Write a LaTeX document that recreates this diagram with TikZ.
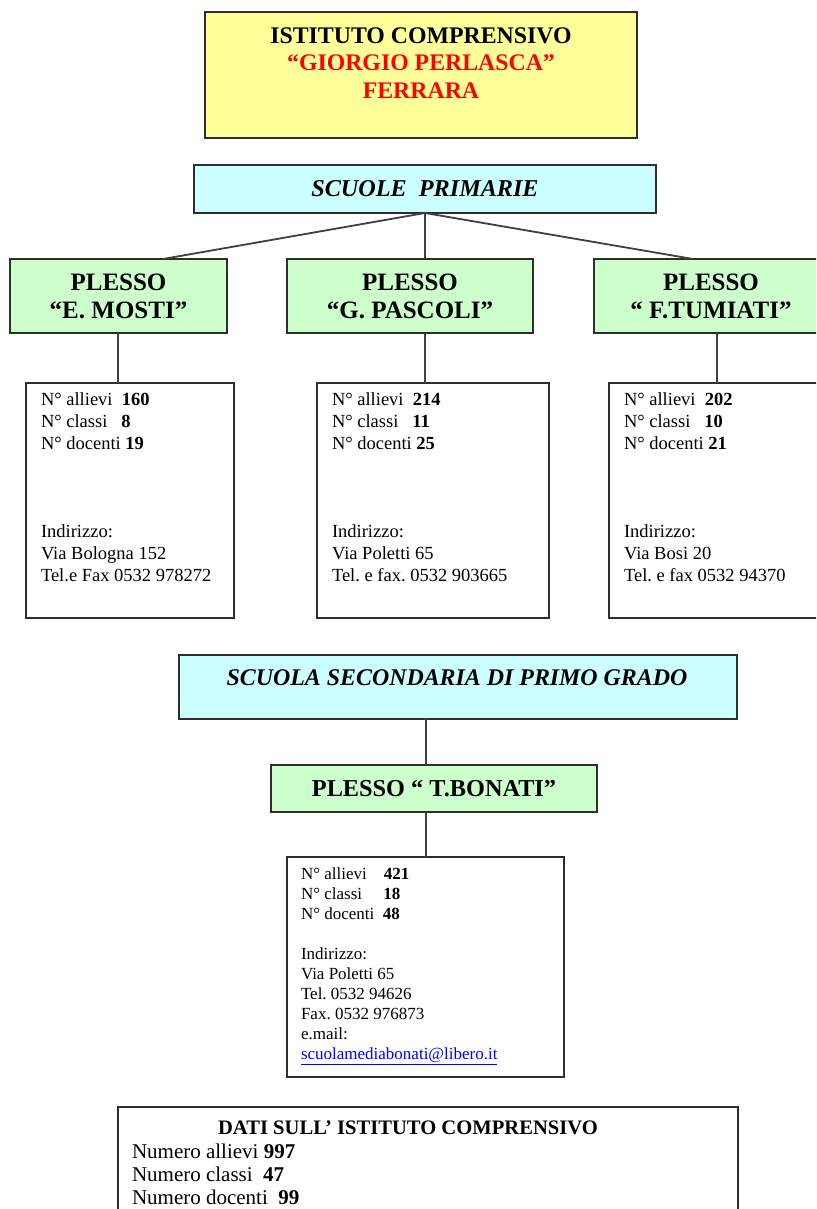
\documentclass[tikz,border=0pt]{standalone}
\usepackage{fontspec}
\setmainfont{Liberation Serif}
\frenchspacing
\definecolor{boxyellow}{HTML}{FFFF99}
\definecolor{boxcyan}{HTML}{CCFFFF}
\definecolor{boxgreen}{HTML}{CCFFCC}
\definecolor{titlered}{HTML}{FF0000}
\definecolor{linkblue}{HTML}{0000FF}
\begin{document}
\begin{tikzpicture}[x=1pt,y=-1pt,
  box/.style={rectangle, draw=black!82, line width=1.9pt, inner sep=0pt, outer sep=0pt, align=center},
  conn/.style={draw=black!75, line width=1.8pt},
  txt/.style={inner sep=0pt, outer sep=0pt, align=center},
  infotxt/.style={inner sep=0pt, outer sep=0pt, align=left, anchor=north west, font=\fontsize{18.5}{22}\selectfont},
  headfont/.style={font=\fontsize{25}{28}\selectfont\bfseries},
]
\useasboundingbox (0,0) rectangle (816,1209);
\clip (0,0) rectangle (816,1209);
\fill[white] (0,0) rectangle (816,1209);

% title
\node[box, fill=boxyellow, minimum width=432pt, minimum height=126pt] (ist) at (421,75) {};
\node[txt, font=\fontsize{23.8}{27.5}\selectfont\bfseries] (istT) at (421,63) {ISTITUTO COMPRENSIVO\\\textcolor{titlered}{“GIORGIO PERLASCA”}\\\textcolor{titlered}{FERRARA}};

% primary
\node[box, fill=boxcyan, minimum width=462pt, minimum height=48pt, font=\fontsize{24.2}{28}\selectfont\bfseries\itshape] (prim) at (425,189) {SCUOLE\ \ PRIMARIE};

\node[box, fill=boxgreen, minimum width=217pt, minimum height=74pt, headfont] (mosti) at (118.5,296) {PLESSO\\“E. MOSTI”};
\node[box, fill=boxgreen, minimum width=246pt, minimum height=74pt, headfont] (pascoli) at (410,296) {PLESSO\\“G. PASCOLI”};
\node[box, fill=boxgreen, minimum width=234pt, minimum height=74pt, headfont] (tumiati) at (711,296) {PLESSO\\“ F.TUMIATI”};

\node[box, minimum width=208pt, minimum height=235pt] (infoA) at (130,500.5) {};
\node[box, minimum width=232pt, minimum height=235pt] (infoB) at (433,500.5) {};
\node[box, minimum width=221pt, minimum height=235pt] (infoC) at (719.5,500.5) {};

\node[infotxt] (infoAT) at (41,393) {N° allievi\ \ \textbf{160}\\N° classi\ \ \ \textbf{8}\\N° docenti \textbf{19}\\[66pt]Indirizzo:\\Via Bologna 152\\Tel.e Fax 0532 978272};
\node[infotxt] (infoBT) at (332,393) {N° allievi\ \ \textbf{214}\\N° classi\ \ \ \textbf{11}\\N° docenti \textbf{25}\\[66pt]Indirizzo:\\Via Poletti 65\\Tel. e fax. 0532 903665};
\node[infotxt] (infoCT) at (624,393) {N° allievi\ \ \textbf{202}\\N° classi\ \ \ \textbf{10}\\N° docenti \textbf{21}\\[66pt]Indirizzo:\\Via Bosi 20\\Tel. e fax 0532 94370};

% secondary
\node[box, fill=boxcyan, minimum width=558pt, minimum height=64pt] (sec) at (458,687) {};
\node[txt, font=\fontsize{23.9}{28}\selectfont\bfseries\itshape] (secT) at (457,678) {SCUOLA SECONDARIA DI PRIMO GRADO};

\node[box, fill=boxgreen, minimum width=326pt, minimum height=47pt, font=\fontsize{24.3}{28}\selectfont\bfseries] (bonati) at (434,788.5) {PLESSO “ T.BONATI”};

\node[box, minimum width=277pt, minimum height=220pt] (bonInfo) at (425.5,967) {};
\node[infotxt, font=\fontsize{17}{20}\selectfont] (bonInfoT) at (301,868) {N° allievi\ \ \ \ \textbf{421}\\N° classi\ \ \ \ \ \textbf{18}\\N° docenti\ \ \textbf{48}\\[20pt]Indirizzo:\\Via Poletti 65\\Tel. 0532 94626\\Fax. 0532 976873\\e.mail:\\\textcolor{linkblue}{\underline{scuolamediabonati@libero.it}}};

% totals
\node[box, minimum width=620pt, minimum height=133pt] (dati) at (428,1173.5) {};
\node[txt, font=\fontsize{20.6}{23}\selectfont\bfseries] (datiT) at (408,1128) {DATI SULL’ ISTITUTO COMPRENSIVO};
\node[infotxt, font=\fontsize{21}{23}\selectfont] (datiL) at (132,1144) {Numero allievi \textbf{997}\\Numero classi\ \ \textbf{47}\\Numero docenti\ \ \textbf{99}};

% connectors
\coordinate (mA) at ([xshift=44.5pt]mosti.north);
\coordinate (mC) at ([xshift=-18pt]tumiati.north);
\draw[conn] (prim.south) -- (mA);
\draw[conn] (prim.south) -- (prim.south |- pascoli.north);
\draw[conn] (prim.south) -- (mC);
\coordinate (pA) at ([xshift=-0.5pt]mosti.south);
\coordinate (pB) at ([xshift=15pt]pascoli.south);
\coordinate (pC) at ([xshift=6pt]tumiati.south);
\draw[conn] (pA) -- (pA |- infoA.north);
\draw[conn] (pB) -- (pB |- infoB.north);
\draw[conn] (pC) -- (pC |- infoC.north);
\coordinate (bN) at ([xshift=-8pt]bonati.north);
\coordinate (bS) at ([xshift=-8pt]bonati.south);
\draw[conn] (bN) -- (bN |- sec.south);
\draw[conn] (bS) -- (bS |- bonInfo.north);
\end{tikzpicture}
\end{document}
